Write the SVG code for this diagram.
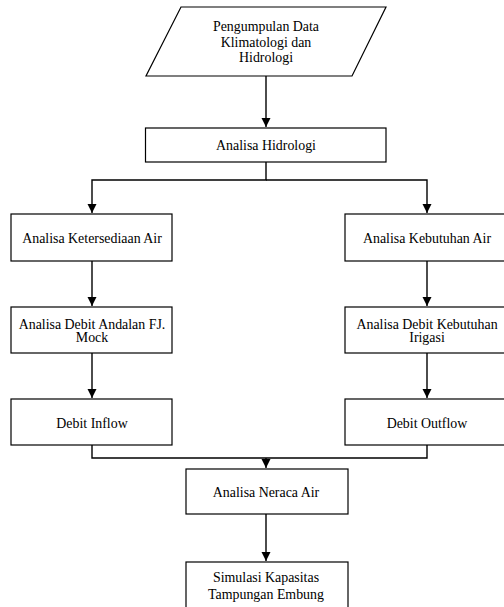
<svg xmlns="http://www.w3.org/2000/svg" width="504" height="607" viewBox="0 0 504 607">
<style>
.box{fill:#fff;stroke:#000;stroke-width:1.2}
.ln{fill:none;stroke:#000;stroke-width:1.4}
text{font-family:"Liberation Serif","Times New Roman",serif;font-size:13.9px;fill:#000;text-anchor:middle}
</style>
<defs>
<marker id="ah" markerWidth="9" markerHeight="10" refX="9" refY="4.5" orient="auto" markerUnits="userSpaceOnUse">
<path d="M0,0 L9,4.5 L0,9 Z" fill="#000"/>
</marker>
</defs>
<rect width="504" height="607" fill="#fff"/>
<g id="connectors">
<path class="ln" d="M266,76 V127" marker-end="url(#ah)"/>
<path class="ln" d="M266,162 V180 H92 V213" marker-end="url(#ah)"/>
<path class="ln" d="M266,180 H427 V213" marker-end="url(#ah)"/>
<path class="ln" d="M92,261 V306" marker-end="url(#ah)"/>
<path class="ln" d="M427,261 V306" marker-end="url(#ah)"/>
<path class="ln" d="M92,353 V398" marker-end="url(#ah)"/>
<path class="ln" d="M427,353 V398" marker-end="url(#ah)"/>
<path class="ln" d="M92,445 V458 H427 V445"/>
<path class="ln" d="M266,458 V468" marker-end="url(#ah)"/>
<path class="ln" d="M266,514 V561" marker-end="url(#ah)"/>
</g>
<g id="n1">
<polygon class="box" points="181,7 386,7 352,76 146,76"/>
<text x="266" y="30.5">Pengumpulan Data</text>
<text x="266" y="46.5">Klimatologi dan</text>
<text x="266" y="62">Hidrologi</text>
</g>
<g id="n2">
<rect class="box" x="145.5" y="128" width="240.5" height="34"/>
<text x="266" y="150">Analisa Hidrologi</text>
</g>
<g id="n3">
<rect class="box" x="11" y="214" width="161" height="47"/>
<text x="92" y="242.5">Analisa Ketersediaan Air</text>
</g>
<g id="n4">
<rect class="box" x="345" y="214" width="164" height="47"/>
<text x="427" y="242.5">Analisa Kebutuhan Air</text>
</g>
<g id="n5">
<rect class="box" x="11" y="307" width="161" height="46"/>
<text x="92" y="328.5">Analisa Debit Andalan FJ.</text>
<text x="92" y="342">Mock</text>
</g>
<g id="n6">
<rect class="box" x="345" y="307" width="164" height="46"/>
<text x="427" y="328.5">Analisa Debit Kebutuhan</text>
<text x="427" y="342">Irigasi</text>
</g>
<g id="n7">
<rect class="box" x="11" y="399" width="161" height="46"/>
<text x="92" y="427.5">Debit Inflow</text>
</g>
<g id="n8">
<rect class="box" x="345" y="399" width="164" height="46"/>
<text x="427" y="427.5">Debit Outflow</text>
</g>
<g id="n9">
<rect class="box" x="186" y="469" width="162" height="45"/>
<text x="266" y="496.5">Analisa Neraca Air</text>
</g>
<g id="n10">
<rect class="box" x="186" y="562" width="162" height="50"/>
<text x="266" y="581.5">Simulasi Kapasitas</text>
<text x="266" y="598.5">Tampungan Embung</text>
</g>
</svg>
